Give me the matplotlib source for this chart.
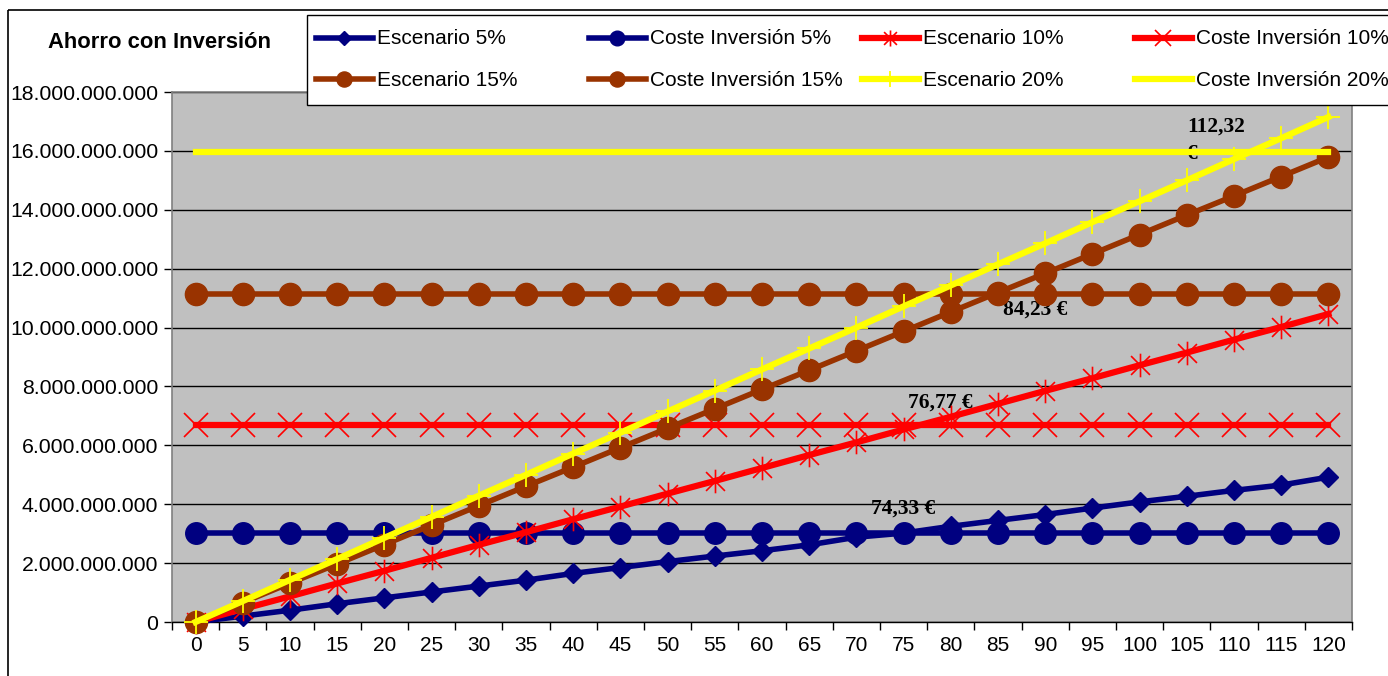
import matplotlib
matplotlib.use("Agg")
import matplotlib.pyplot as plt
from matplotlib.path import Path
from matplotlib.patches import Rectangle
from matplotlib.lines import Line2D
from matplotlib.ticker import FuncFormatter, FixedLocator

plt.rcParams['font.family'] = ['Liberation Sans', 'DejaVu Sans']

# ---------------- data ----------------
categories = [0, 5, 10, 15, 20, 25, 30, 35, 40, 45, 50, 55, 60, 65, 70, 75, 80, 85, 90, 95, 100, 105, 110, 115, 120]

escenario_5 = [0.0, 0.20, 0.40, 0.62, 0.82, 1.02, 1.22, 1.42, 1.65, 1.85, 2.05, 2.24, 2.42, 2.62, 2.88,
               3.02, 3.25, 3.45, 3.65, 3.87, 4.08, 4.27, 4.47, 4.65, 4.92]
coste_5 = [3.03] * 25
escenario_10 = [0.0, 0.44, 0.87, 1.31, 1.74, 2.18, 2.62, 3.05, 3.49, 3.92, 4.36, 4.79, 5.23, 5.67, 6.10,
                6.54, 6.97, 7.41, 7.85, 8.28, 8.72, 9.15, 9.59, 10.02, 10.46]
coste_10 = [6.69] * 25
escenario_15 = [0.0, 0.66, 1.32, 1.97, 2.63, 3.29, 3.95, 4.61, 5.26, 5.92, 6.58, 7.24, 7.90, 8.55, 9.21,
                9.87, 10.53, 11.19, 11.84, 12.50, 13.16, 13.82, 14.47, 15.13, 15.79]
coste_15 = [11.14] * 25
escenario_20 = [0.0, 0.71, 1.43, 2.14, 2.86, 3.57, 4.29, 5.00, 5.72, 6.43, 7.15, 7.86, 8.58, 9.29, 10.00,
                10.72, 11.43, 12.15, 12.86, 13.58, 14.29, 15.00, 15.72, 16.43, 17.15]
coste_20 = [15.96] * 25

series_names = ["Escenario 5%", "Coste Inversión 5%", "Escenario 10%", "Coste Inversión 10%",
                "Escenario 15%", "Coste Inversión 15%", "Escenario 20%", "Coste Inversión 20%"]
series_values = [escenario_5, coste_5, escenario_10, coste_10, escenario_15, coste_15, escenario_20, coste_20]

annotation_texts = ["112,32\n€", "84,23 €", "76,77 €", "74,33 €"]
chart_title = "Ahorro con Inversión"
SCALE = 1e9

# ---------------- styles ----------------
asterisk = Path([(-1, -1), (1, 1), (-1, 1), (1, -1), (0, -1.25), (0, 1.25)],
                [Path.MOVETO, Path.LINETO, Path.MOVETO, Path.LINETO, Path.MOVETO, Path.LINETO])
navy = "#000080"
red = "#FF0000"
brown = "#993300"
yellow = "#FFFF00"
styles = [
    dict(color=navy, marker="D", ms=10.5, mfc=navy, mec=navy, lw=4),
    dict(color=navy, marker="o", ms=15.5, mfc=navy, mec=navy, lw=4),
    dict(color=red, marker=asterisk, ms=17, mfc="none", mec=red, mew=1.2, lw=4.5),
    dict(color=red, marker="x", ms=17, mfc="none", mec=red, mew=1.2, lw=4.5),
    dict(color=brown, marker="o", ms=16, mfc=brown, mec=brown, lw=4),
    dict(color=brown, marker="o", ms=16, mfc=brown, mec=brown, lw=4),
    dict(color=yellow, marker="+", ms=17, mfc="none", mec=yellow, mew=1.3, lw=4.5),
    dict(color=yellow, marker="None", lw=4.5),
]

W, H = 1388, 676
fig = plt.figure(figsize=(W / 100, H / 100), dpi=100)
fig.patch.set_facecolor("white")

L, R, T, B = 172, 1352, 92, 622
ax = fig.add_axes([L / W, 1 - B / H, (R - L) / W, (B - T) / H])
ax.set_facecolor("#C0C0C0")

xs = list(range(len(categories)))
for vals, name, st in zip(series_values, series_names, styles):
    ax.plot(xs, [v * SCALE for v in vals], label=name, clip_on=False, zorder=3, **st)

ax.set_xlim(-0.5, len(categories) - 0.5)
ax.set_ylim(0, 18e9)
ax.set_yticks([i * 2e9 for i in range(10)])
ax.yaxis.set_major_formatter(FuncFormatter(lambda v, p: f"{int(round(v)):,}".replace(",", ".")))
ax.grid(axis="y", color="black", lw=1, zorder=1)
ax.set_axisbelow(True)

ax.set_xticks(xs)
ax.set_xticklabels([str(c) for c in categories])
ax.xaxis.set_minor_locator(FixedLocator([i - 0.5 for i in range(len(categories) + 1)]))
ax.tick_params(axis="x", which="major", length=0, pad=10, labelsize=15)
ax.tick_params(axis="x", which="minor", length=6, width=1, color="black", direction="out")
ax.tick_params(axis="y", length=6, width=1, color="black", direction="out", pad=4, labelsize=15.3)

for s in ["top", "right", "left"]:
    ax.spines[s].set_color("#808080")
    ax.spines[s].set_linewidth(1.2)
ax.spines["bottom"].set_color("black")
ax.spines["bottom"].set_linewidth(1)

# annotations (data labels)
ann_pos = [(21.0, 17.15e9), (17.1, 10.6e9), (15.1, 7.44e9), (14.3, 3.84e9)]
for txt, (x, y) in zip(annotation_texts, ann_pos):
    va = "top" if "\n" in txt else "center"
    ax.text(x, y, txt, fontfamily=["Liberation Serif", "DejaVu Serif"], fontweight="bold",
            fontsize=15.5, ha="left", va=va, zorder=2.5, linespacing=1.45)

# overlay: frame, title and legend in pixel coordinates
ov = fig.add_axes([0, 0, 1, 1], zorder=10)
ov.set_xlim(0, W)
ov.set_ylim(H, 0)
ov.axis("off")
ov.patch.set_alpha(0)

ov.add_patch(Rectangle((8, 10), W + 20, H + 20, fill=False, ec="black", lw=1.2))
ov.text(48, 42, chart_title, fontsize=15.8, fontweight="bold", ha="left", va="center")

# legend box
ov.add_patch(Rectangle((307, 15), W, 90, fc="white", ec="black", lw=1))
col_x = [316, 589, 862, 1135]
row_y = [38, 79]
for k in range(len(series_names)):
    r, c = divmod(k, 4)
    x0 = col_x[c]
    y0 = row_y[r]
    st = dict(styles[k])
    ms = st.pop("ms", 0)
    ln = Line2D([x0, x0 + 57], [y0, y0], **st)
    ln.set_markevery([])
    ov.add_line(ln)
    if st.get("marker", "None") != "None":
        mk = Line2D([x0 + 28.5], [y0], linestyle="None", marker=st["marker"],
                    ms=ms * 0.68, mfc=st.get("mfc"), mec=st.get("mec"), mew=st.get("mew", 1))
        ov.add_line(mk)
    ov.text(x0 + 61, y0 + 1, series_names[k], fontsize=15, ha="left", va="center")

fig.savefig("out.png", dpi=100)
